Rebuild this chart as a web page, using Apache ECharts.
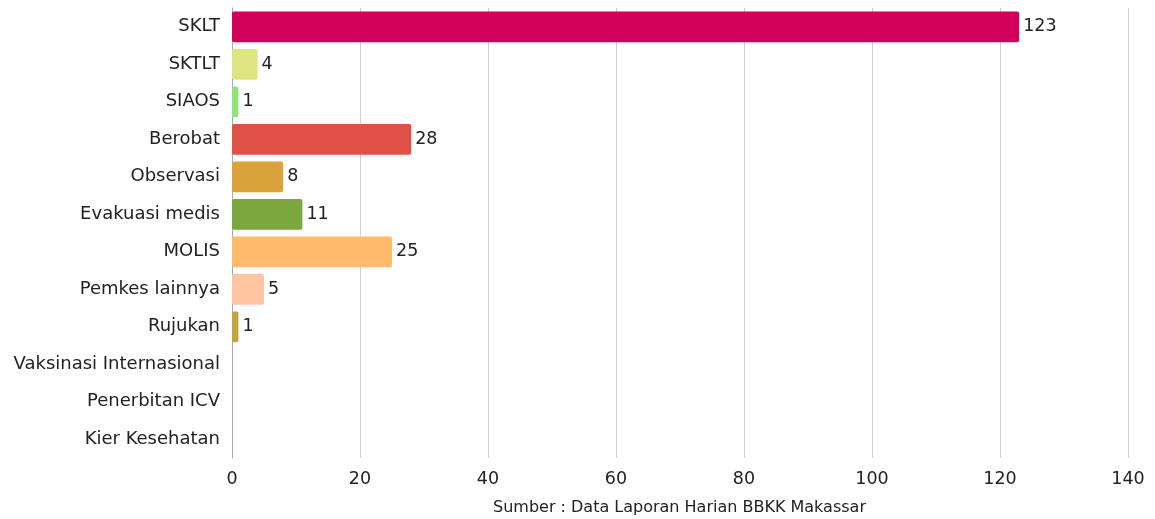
<!DOCTYPE html>
<html>
<head>
<meta charset="utf-8">
<script src="https://cdn.jsdelivr.net/npm/echarts@6/dist/echarts.min.js"></script>
<style>
  html, body { margin: 0; padding: 0; background: #fff; }
  #chart { width: 1155px; height: 519px; }
</style>
</head>
<body>
<div id="chart"></div>
<script>
// data
var categories = [
  "SKLT", "SKTLT", "SIAOS", "Berobat", "Observasi", "Evakuasi medis",
  "MOLIS", "Pemkes lainnya", "Rujukan", "Vaksinasi Internasional",
  "Penerbitan ICV", "Kier Kesehatan"
];
var values = [123, 4, 1, 28, 8, 11, 25, 5, 1, 0, 0, 0];
var barColors = [
  "#D1005B", "#DDE67E", "#90E27A", "#E05046", "#D9A23A", "#7AA83E",
  "#FFBA6C", "#FFC4A0", "#C0A43E", "#999999", "#999999", "#999999"
];
var xTicks = { min: 0, max: 140, interval: 20 };
var sourceText = "Sumber : Data Laporan Harian BBKK Makassar";

var font = "DejaVu Sans";
var myChart = echarts.init(document.getElementById("chart"));

var option = {
  animation: false,
  textStyle: { fontFamily: font },
  grid: { left: 232, right: 27, top: 8, bottom: 61, containLabel: false },
  graphic: [{
    type: "text",
    left: 493,
    top: 500,
    style: { text: sourceText, fontFamily: font, fontSize: 16, fill: "#222" }
  }],
  xAxis: {
    type: "value",
    min: xTicks.min,
    max: xTicks.max,
    interval: xTicks.interval,
    axisLine: { show: false },
    axisTick: { show: false },
    axisLabel: { color: "#222", fontSize: 17.5, margin: 12 },
    splitLine: { show: true, lineStyle: { color: "#d0d0d0", width: 1 } }
  },
  yAxis: {
    type: "category",
    inverse: true,
    data: categories,
    axisLine: { show: true, lineStyle: { color: "#aaaaaa", width: 1 } },
    axisTick: { show: false },
    axisLabel: { color: "#222", fontSize: 18, margin: 12 }
  },
  series: [{
    type: "bar",
    barWidth: "82%",
    data: values.map(function (v, i) {
      return { value: v, itemStyle: { color: barColors[i], borderRadius: 2 } };
    }),
    label: {
      show: true,
      position: "right",
      distance: 4,
      color: "#222",
      fontSize: 17.5,
      formatter: function (p) { return p.value === 0 ? "" : p.value; }
    }
  }]
};

myChart.setOption(option);
</script>
</body>
</html>
